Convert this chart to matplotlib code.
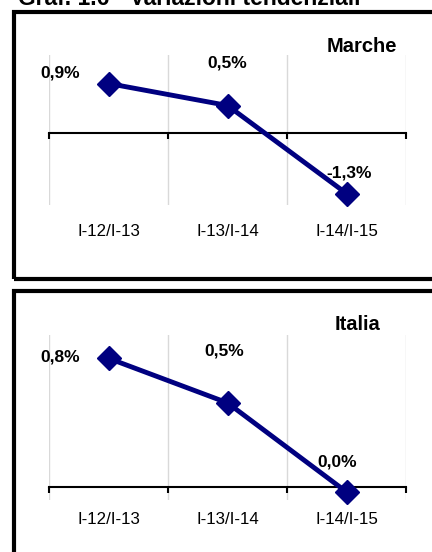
import matplotlib.pyplot as plt
from matplotlib.patches import Rectangle
from matplotlib.transforms import blended_transform_factory

plt.rcParams['font.family'] = ['Liberation Sans', 'DejaVu Sans']

periods = ["I-12/I-13", "I-13/I-14", "I-14/I-15"]
marche_values = [0.9, 0.5, -1.1]
marche_labels = ["0,9%", "0,5%", "-1,3%"]
italia_values = [0.78, 0.51, -0.03]
italia_labels = ["0,8%", "0,5%", "0,0%"]

W, H = 432, 552
fig = plt.figure(figsize=(W / 100, H / 100), dpi=100)


def px_axes(left, top, right, bottom):
    return fig.add_axes([left / W, 1 - bottom / H, (right - left) / W, (bottom - top) / H])


def draw_panel(ax, values, labels, ylim, offsets, region, region_xy, cat_y):
    x = list(range(len(values)))
    ax.set_xlim(-0.5, len(values) - 0.5)
    ax.set_ylim(*ylim)
    for b in [i - 0.5 for i in range(len(values) + 1)]:
        ax.axvline(b, color='#d9d9d9', lw=1, zorder=0)
    for s in ['top', 'right', 'left']:
        ax.spines[s].set_visible(False)
    ax.spines['bottom'].set_position(('data', 0))
    ax.spines['bottom'].set_linewidth(1.5)
    ax.spines['bottom'].set_zorder(1)
    ax.set_yticks([])
    ax.set_xticks([i - 0.5 for i in range(len(values) + 1)])
    ax.set_xticklabels([])
    ax.tick_params(axis='x', direction='out', length=4, width=1.5)
    ax.patch.set_alpha(0)

    ax.plot(x, values, color='#000080', lw=3.5, marker='D', markersize=12, zorder=3, clip_on=False)

    for xi, yi, lab, (dx, dy) in zip(x, values, labels, offsets):
        ax.annotate(lab, (xi, yi), xytext=(dx, dy), textcoords='offset pixels',
                    ha='center', va='center', fontsize=12.5, fontweight='bold')

    # category labels sit under the plot area, not under the zero line
    trans = blended_transform_factory(ax.transData, ax.transAxes)
    for xi, p in zip(x, periods):
        ax.text(xi, cat_y, p, transform=trans, ha='center', va='center', fontsize=12.2)

    fig.text(region_xy[0] / W, 1 - region_xy[1] / H, region, ha='right', va='center',
             fontsize=14.5, fontweight='bold')


# outer frames
fig.patches.append(Rectangle((14 / W, 1 - 278.5 / H), 440 / W, 267 / H, transform=fig.transFigure,
                             fill=False, lw=3, edgecolor='black'))
fig.patches.append(Rectangle((14 / W, -0.1), 440 / W, 1 - 290.5 / H + 0.1, transform=fig.transFigure,
                             fill=False, lw=3, edgecolor='black'))

# title is cropped at the top edge, as in the source
fig.text(18 / W, 1 - 5 / H, "Graf. 1.6 - Variazioni tendenziali", ha='left', va='baseline',
         fontsize=16.5, fontweight='bold')

ax1 = px_axes(49, 55, 406, 205)
draw_panel(ax1, marche_values, marche_labels, (-72 / 55, 78 / 55),
           [(-48, 11), (0, 42), (3, 20)], "Marche", (397, 47), -27 / 150)

ax2 = px_axes(49, 335, 406, 500)
draw_panel(ax2, italia_values, italia_labels, (-13 / 165, 152 / 165),
           [(-48, 1), (-3, 52), (-9, 30)], "Italia", (380, 325), -20 / 165)

fig.savefig("out.png", dpi=100)
